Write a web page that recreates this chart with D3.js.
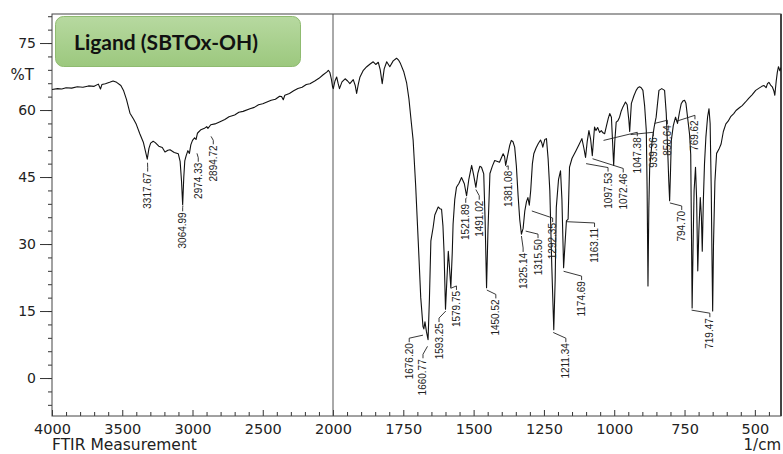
<!DOCTYPE html>
<html>
  <head>
    <meta charset="utf-8">
    <script src="https://cdn.jsdelivr.net/npm/d3@7/dist/d3.min.js"></script>
    <style>
      body { margin: 0; background: #fff; }
      svg { display: block; }
    </style>
  </head>
  <body>
    <script type="text/javascript">
      // spectrum, wavenumber (1/cm) and %T
      var wavenumber = [
        4000, 3960, 3930, 3900, 3860, 3820, 3780, 3740, 3700, 3670, 3655, 3645, 3620, 3590, 3565, 3540,
        3510, 3490, 3470, 3445, 3420, 3400, 3375, 3350, 3335, 3322, 3310, 3298, 3280, 3265, 3240, 3215,
        3196, 3175, 3160, 3130, 3101, 3088, 3078, 3070, 3062, 3055, 3045, 3033, 3022, 3012, 3000, 2985,
        2975, 2965, 2940, 2915, 2899, 2890, 2870, 2840, 2804, 2770, 2740, 2700, 2670, 2640, 2591, 2560,
        2530, 2500, 2470, 2440, 2410, 2380, 2365, 2354, 2343, 2310, 2280, 2250, 2220, 2190, 2164, 2130,
        2100, 2070, 2045, 2033, 2022, 2012, 2003, 1999, 1993, 1987, 1982, 1977, 1968, 1957, 1948, 1940,
        1928, 1921, 1916, 1910, 1904, 1893, 1880, 1868, 1857, 1848, 1839, 1832, 1825, 1818, 1809, 1798,
        1786, 1774, 1766, 1760, 1748, 1738, 1730, 1722, 1715, 1706, 1697, 1688, 1680, 1677, 1673, 1668,
        1662, 1657, 1652, 1644, 1638, 1632, 1626, 1620, 1614, 1609, 1605, 1600, 1595, 1590, 1586, 1581,
        1576, 1573, 1567, 1561, 1552, 1543, 1533, 1525, 1517, 1507, 1500, 1492, 1485, 1478, 1472, 1464,
        1459, 1454, 1449, 1442, 1433, 1425, 1415, 1408, 1400, 1395, 1390, 1386, 1380, 1372, 1366, 1360,
        1354, 1348, 1342, 1336, 1330, 1324, 1318, 1312, 1307, 1302, 1297, 1291, 1286, 1278, 1270, 1262,
        1257, 1254, 1247, 1241, 1235, 1229, 1222, 1215, 1210, 1206, 1198, 1191, 1186, 1180, 1175, 1170,
        1164, 1159, 1150, 1136, 1125, 1115, 1108, 1102, 1096, 1090, 1084, 1078, 1074, 1070, 1065, 1059,
        1052, 1046, 1040, 1034, 1027, 1021, 1016, 1010, 1006, 1002, 998, 993, 987, 981, 975, 969,
        960, 954, 948, 945, 942, 939, 930, 922, 916, 910, 904, 898, 892, 886, 883, 880,
        877, 874, 865, 858, 851, 846, 841, 831, 821, 815, 809, 806, 803, 800, 797, 790,
        782, 775, 768, 762, 756, 750, 745, 738, 732, 728, 725, 723, 719, 716, 711, 707,
        703, 699, 694, 690, 687, 683, 679, 674, 668, 663, 659, 655, 652, 650, 647, 642,
        636, 628, 620, 612, 603, 595, 585, 575, 567, 555, 545, 533, 522, 510, 497, 485,
        475, 468, 460, 455, 450, 444, 438, 432, 429, 424, 420, 416, 411, 407
      ];
      var transmittance = [
        64.6, 64.8, 64.7, 65.0, 64.9, 65.2, 65.1, 65.4, 65.3, 65.8, 64.7, 65.7, 65.9, 66.2, 66.5, 66.2,
        65.5, 64.3, 62.4, 59.3, 58.0, 56.8, 54.7, 52.8, 50.8, 49.0, 51.4, 52.6, 53.0, 52.7, 51.9, 51.6,
        50.6, 51.0, 51.1, 50.5, 50.2, 48.5, 44.0, 38.8, 45.0, 48.6, 49.8, 50.9, 50.3, 52.2, 53.2, 53.8,
        53.4, 54.8, 55.6, 55.9, 56.3, 55.9, 56.7, 56.9, 57.4, 57.9, 58.5, 58.9, 59.5, 59.7, 60.3, 60.6,
        61.2, 61.4, 61.8, 62.2, 62.4, 63.1, 63.0, 62.3, 63.3, 63.7, 64.3, 64.8, 65.1, 65.7, 65.9, 66.5,
        67.1, 67.9, 68.5, 68.9, 68.4, 67.0, 65.2, 64.8, 66.5, 67.4, 66.0, 64.8, 66.3, 67.0, 66.5, 65.9,
        66.8, 65.5, 63.7, 65.8, 67.4, 68.8, 69.7, 70.3, 70.8, 70.2, 70.7, 69.0, 65.9, 69.2, 70.8, 69.7,
        71.0, 71.6, 71.1, 70.4, 68.5, 66.0, 62.5, 57.5, 53.2, 43.0, 30.7, 18.0, 11.5, 11.0, 12.6, 10.5,
        8.6, 18.0, 30.7, 33.7, 36.5, 37.4, 38.3, 37.9, 37.8, 34.0, 28.0, 15.4, 22.0, 28.4, 25.0, 20.2,
        28.0, 34.5, 40.0, 42.7, 43.6, 44.9, 43.5, 40.8, 44.5, 47.6, 45.5, 42.7, 45.8, 47.4, 47.2, 45.7,
        35.0, 20.2, 33.0, 45.8, 47.5, 48.7, 48.5, 48.3, 49.5, 50.2, 49.6, 47.6, 49.5, 52.0, 53.2, 52.9,
        51.7, 47.5, 41.0, 35.5, 32.2, 33.5, 37.4, 39.5, 40.4, 38.7, 42.0, 48.0, 50.2, 51.5, 52.5, 53.3,
        52.5, 51.7, 53.4, 53.6, 49.0, 41.9, 25.0, 10.8, 22.0, 38.2, 44.5, 46.4, 40.0, 24.7, 30.0, 35.2,
        35.6, 47.2, 49.2, 50.9, 52.3, 53.6, 51.5, 49.4, 53.0, 55.4, 53.5, 49.8, 53.0, 56.2, 55.4, 56.1,
        55.0, 55.4, 54.9, 54.7, 56.6, 58.2, 59.2, 58.4, 53.0, 47.6, 53.0, 57.3, 57.6, 58.4, 59.8, 60.7,
        61.8, 61.2, 57.7, 55.2, 58.5, 61.5, 63.2, 64.4, 65.0, 65.2, 65.0, 64.4, 61.0, 55.4, 42.0, 20.6,
        38.0, 47.0, 53.2, 56.2, 58.4, 61.5, 64.4, 64.8, 64.4, 59.2, 49.4, 44.0, 39.7, 46.0, 53.2, 56.5,
        58.4, 57.0, 59.5, 61.4, 62.0, 62.2, 61.5, 57.7, 54.5, 50.0, 30.0, 15.7, 32.0, 42.0, 47.2, 40.0,
        24.0, 33.0, 40.4, 36.0, 28.4, 40.0, 48.0, 54.0, 58.5, 60.3, 57.0, 42.0, 25.0, 15.0, 30.0, 44.0,
        50.3, 51.2, 52.4, 55.2, 56.9, 57.5, 58.6, 59.2, 59.9, 60.5, 61.0, 61.8, 62.6, 63.4, 64.4, 64.9,
        65.3, 65.5, 65.0, 65.9, 66.2, 65.6, 65.2, 64.2, 63.3, 66.5, 68.5, 69.7, 68.8, 69.5
      ];

      // peak labels, where their text top sits and where their leader ends (1/cm, %T)
      var peakLabels = ["3317.67", "3064.99", "2974.33", "2894.72", "1676.20", "1660.77", "1593.25",
        "1579.75", "1521.89", "1491.02", "1450.52", "1381.08", "1325.14", "1315.50", "1292.35",
        "1211.34", "1174.69", "1163.11", "1097.53", "1072.46", "1047.38", "939.36", "850.64",
        "794.70", "769.62", "719.47"];
      var labelTop = [[3319, 46.0], [3070, 37.1], [2959, 48.2], [2852, 52.1], [1729, 7.8], [1680, 4.2],
        [1623, 12.3], [1561, 19.5], [1528, 39.0], [1480, 39.7], [1421, 17.6], [1377, 46.4], [1324, 28.0],
        [1271, 31.1], [1219, 34.7], [1172, 7.8], [1116, 21.7], [1070, 33.6], [1022, 46.0], [968, 45.8],
        [918, 53.9], [861, 53.9], [811, 56.6], [760, 37.4], [713, 57.7], [660, 13.4]];
      var leaderTip = [[3320, 48.2], [3068, 38.6], [2968, 50.3], [2868, 54.1], [1680, 9.6], [1664, 7.1],
        [1599, 15.0], [1581, 20.1], [1525, 40.4], [1492, 42.2], [1453, 19.7], [1384, 47.3], [1330, 31.8],
        [1315, 32.9], [1293, 37.4], [1217, 10.2], [1180, 23.9], [1169, 35.0], [1100, 48.0], [1077, 49.1],
        [1038, 53.2], [942, 54.5], [857, 57.0], [802, 39.2], [778, 57.5], [725, 15.2]];

      var yTicks = [0, 15, 30, 45, 60, 75];
      var xTicksLeft = [4000, 3500, 3000, 2500, 2000];
      var xTicksRight = [1750, 1500, 1250, 1000, 750, 500];
      var title = "Ligand (SBTOx-OH)";

      var width = 783, height = 454;
      var plotL = 52, plotR = 781, plotT = 14, plotB = 416;

      var svg = d3.select("body").append("svg")
          .attr("width", width)
          .attr("height", height);

      // the scale is compressed by half above 2000 1/cm
      var x = d3.scaleLinear().domain([4000, 2000, 407]).range([plotL, 333, plotR]);
      var y = d3.scaleLinear().domain([-8.5, 81.5]).range([plotB, plotT]);

      var axisFont = "'DejaVu Sans', sans-serif";

      // minor ticks, bottom (pointing in) and left (pointing out)
      var minorX = d3.range(2100, 4000, 100).filter(function (d) { return d % 500 !== 0; })
          .concat(d3.range(450, 2000, 50).filter(function (d) { return d % 250 !== 0; }));
      svg.append("g")
          .attr("transform", "translate(0," + plotB + ")")
          .call(d3.axisBottom(x).tickValues(minorX).tickSize(-4).tickFormat(""))
          .call(function (g) { g.select(".domain").remove(); })
          .selectAll("line").attr("stroke", "#333");

      svg.append("g")
          .attr("transform", "translate(" + plotL + ",0)")
          .call(d3.axisLeft(y).tickValues(d3.range(-6, 82, 3)).tickSize(4).tickFormat(""))
          .call(function (g) { g.select(".domain").remove(); })
          .selectAll("line").attr("stroke", "#333");

      // major ticks with labels
      var xAxis = svg.append("g")
          .attr("transform", "translate(0," + plotB + ")")
          .call(d3.axisBottom(x).tickValues(xTicksLeft.concat(xTicksRight))
            .tickSize(-6).tickPadding(8).tickFormat(d3.format("d")));
      xAxis.select(".domain").remove();
      xAxis.selectAll("line").attr("stroke", "#333");
      xAxis.selectAll("text")
          .attr("font-family", axisFont)
          .attr("font-size", 14.5)
          .attr("fill", "#222");

      var yAxis = svg.append("g")
          .attr("transform", "translate(" + plotL + ",0)")
          .call(d3.axisLeft(y).tickValues(yTicks).tickSize(12).tickPadding(4).tickFormat(d3.format("d")));
      yAxis.select(".domain").remove();
      yAxis.selectAll("line").attr("stroke", "#333");
      yAxis.selectAll("text")
          .attr("font-family", axisFont)
          .attr("font-size", 14)
          .attr("fill", "#222");

      // frame and the 2000 1/cm divider
      svg.append("rect")
          .attr("x", plotL).attr("y", plotT)
          .attr("width", plotR - plotL).attr("height", plotB - plotT)
          .attr("fill", "none")
          .attr("stroke", "#444")
          .attr("stroke-width", 1);
      svg.append("line")
          .attr("x1", plotR).attr("x2", plotR)
          .attr("y1", plotT).attr("y2", plotB)
          .attr("stroke", "#444").attr("stroke-width", 2);
      svg.append("line")
          .attr("x1", x(2000)).attr("x2", x(2000))
          .attr("y1", plotT).attr("y2", plotB)
          .attr("stroke", "#555").attr("stroke-width", 1);

      // title box
      var grad = svg.append("defs").append("linearGradient")
          .attr("id", "titleFill")
          .attr("x1", 0).attr("y1", 0).attr("x2", 0).attr("y2", 1);
      grad.append("stop").attr("offset", "0%").attr("stop-color", "#b7d9a0");
      grad.append("stop").attr("offset", "100%").attr("stop-color", "#9cc87e");

      svg.append("rect")
          .attr("x", 55.5).attr("y", 16.5)
          .attr("width", 245).attr("height", 50)
          .attr("rx", 8).attr("ry", 8)
          .attr("fill", "url(#titleFill)")
          .attr("stroke", "#8fbb70");
      svg.append("text")
          .attr("x", 74).attr("y", 50)
          .attr("font-family", "Lato, 'Open Sans', sans-serif")
          .attr("font-weight", "bold")
          .attr("font-size", 21)
          .attr("fill", "#111")
          .text(title);

      // the spectrum
      svg.append("clipPath").attr("id", "plotClip")
        .append("rect")
          .attr("x", plotL).attr("y", plotT)
          .attr("width", plotR - plotL).attr("height", plotB - plotT);

      var line = d3.line()
          .x(function (d, i) { return x(wavenumber[i]); })
          .y(function (d, i) { return y(transmittance[i]); });

      svg.append("path")
          .datum(wavenumber)
          .attr("clip-path", "url(#plotClip)")
          .attr("d", line)
          .attr("fill", "none")
          .attr("stroke", "#111")
          .attr("stroke-width", 1.1)
          .attr("stroke-linejoin", "round");

      // peak labels with their leaders
      var peaks = svg.append("g");
      peaks.selectAll("path")
          .data(peakLabels)
          .enter()
          .append("path")
          .attr("d", function (d, i) {
            var lx = x(labelTop[i][0]), ly = y(labelTop[i][1]);
            return "M" + lx + "," + (ly - 1) + "V" + (ly - 5) +
                   "L" + x(leaderTip[i][0]) + "," + y(leaderTip[i][1]);
          })
          .attr("fill", "none")
          .attr("stroke", "#222")
          .attr("stroke-width", 0.9);

      peaks.selectAll("text")
          .data(peakLabels)
          .enter()
          .append("text")
          .attr("transform", function (d, i) {
            return "translate(" + x(labelTop[i][0]) + "," + y(labelTop[i][1]) + ") rotate(-90)";
          })
          .attr("text-anchor", "end")
          .attr("dy", "0.35em")
          .attr("font-family", "'Liberation Sans', Arial, sans-serif")
          .attr("font-size", 10)
          .attr("fill", "#222")
          .text(function (d) { return d; });

      // axis titles
      svg.append("text")
          .attr("x", 34).attr("y", 80)
          .attr("text-anchor", "end")
          .attr("font-family", axisFont)
          .attr("font-size", 15)
          .attr("fill", "#222")
          .text("%T");

      svg.append("text")
          .attr("x", plotL).attr("y", 450)
          .attr("font-family", axisFont)
          .attr("font-size", 15.5)
          .attr("fill", "#222")
          .text("FTIR Measurement");

      svg.append("text")
          .attr("x", plotR).attr("y", 450)
          .attr("text-anchor", "end")
          .attr("font-family", axisFont)
          .attr("font-size", 15)
          .attr("fill", "#222")
          .text("1/cm");
    </script>
  </body>
</html>
